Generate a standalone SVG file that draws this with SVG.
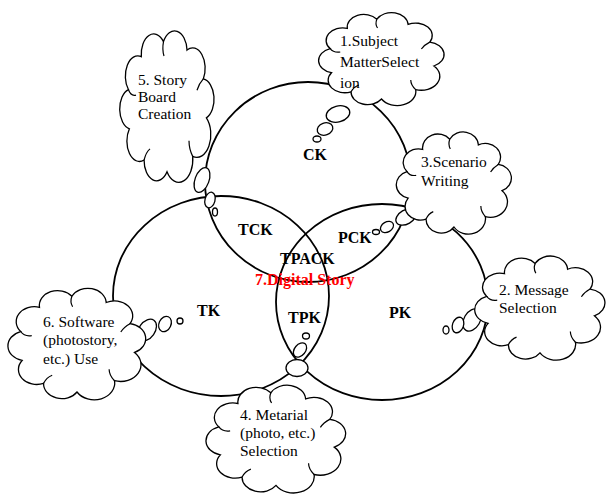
<svg xmlns="http://www.w3.org/2000/svg" xmlns:xlink="http://www.w3.org/1999/xlink" width="607" height="494" viewBox="0 0 607 494">
<style>
.ring{fill:none;stroke:#000;stroke-width:1.8}
.cloud{fill:#fff;stroke:#000;stroke-width:1.3}
.inner{fill:none;stroke:#000;stroke-width:1.2}
.bub{fill:#fff;stroke:#000;stroke-width:1.3}
.ct{font-family:"Liberation Serif","Times New Roman",serif;font-size:15.5px;fill:#000}
.lb{font-family:"Liberation Serif","Times New Roman",serif;font-size:16px;font-weight:bold;fill:#000}
.red{fill:#ff0000}
</style>
<defs>
<path id="cloudShape" vector-effect="non-scaling-stroke" d="M11.4,39.6 A12.5,12.5 0 0 1 24.3,19.4 A12.5,12.5 0 0 1 46.5,10.2 A12.5,12.5 0 0 1 70,15.4 A12.5,12.5 0 0 1 86.3,33.1 A12.5,12.5 0 0 1 89.4,57 A14,14 0 0 1 75.7,80.6 A14,14 0 0 1 50,90 A12.5,12.5 0 0 1 27.1,82.8 A12.5,12.5 0 0 1 12.4,63.7 A12.5,12.5 0 0 1 11.4,39.6 Z"/>
<path id="cloudInner" vector-effect="non-scaling-stroke" d="M11.4,39.6 Q14,44 19,43 M46.5,10.2 Q45,15 47,19 M86.3,33.1 Q82,36 80,40 M75.7,80.6 Q72,76 72,71 M27.1,82.8 Q29,78 33,76"/>
</defs>

<g id="circles">
<ellipse id="ck-circle" class="ring" cx="308" cy="182" rx="103" ry="100"/>
<ellipse id="tk-circle" class="ring" cx="221" cy="296" rx="108" ry="100"/>
<ellipse id="pk-circle" class="ring" cx="382" cy="302" rx="106" ry="98"/>
</g>

<g id="labels">
<text class="lb" x="303" y="160">CK</text>
<text class="lb" x="238" y="235">TCK</text>
<text class="lb" x="338" y="243">PCK</text>
<text class="lb" x="280" y="264">TPACK</text>
<text class="lb red" x="255" y="285">7.Digital Story</text>
<text class="lb" x="197" y="316">TK</text>
<text class="lb" x="288" y="323">TPK</text>
<text class="lb" x="389" y="318">PK</text>
</g>

<g id="connectors">
<g id="bubbles-1">
<ellipse class="bub" cx="338" cy="114" rx="12" ry="8" transform="rotate(-15 338 114)"/>
<ellipse class="bub" cx="325" cy="129" rx="8" ry="6" transform="rotate(-20 325 129)"/>
<ellipse class="bub" cx="317" cy="139" rx="4" ry="3"/>
</g>
<g id="bubbles-5">
<ellipse class="bub" cx="202" cy="180" rx="7" ry="13" transform="rotate(20 202 180)"/>
<ellipse class="bub" cx="210" cy="200" rx="5" ry="8" transform="rotate(15 210 200)"/>
<ellipse class="bub" cx="215" cy="212" rx="2.5" ry="4"/>
</g>
<g id="bubbles-3">
<ellipse class="bub" cx="406" cy="217" rx="11" ry="7" transform="rotate(-30 406 217)"/>
<ellipse class="bub" cx="387" cy="227" rx="7" ry="5" transform="rotate(-30 387 227)"/>
<ellipse class="bub" cx="376" cy="232" rx="3.5" ry="2.5"/>
</g>
<g id="bubbles-2">
<ellipse class="bub" cx="472" cy="320" rx="8" ry="12" transform="rotate(30 472 320)"/>
<ellipse class="bub" cx="458" cy="325" rx="5.5" ry="8" transform="rotate(20 458 325)"/>
<ellipse class="bub" cx="446" cy="330" rx="3" ry="4"/>
</g>
<g id="bubbles-6">
<ellipse class="bub" cx="147" cy="330" rx="8" ry="12" transform="rotate(35 147 330)"/>
<ellipse class="bub" cx="165" cy="324" rx="6" ry="8" transform="rotate(25 165 324)"/>
<ellipse class="bub" cx="180" cy="321" rx="3" ry="3"/>
</g>
<g id="bubbles-4">
<ellipse class="bub" cx="297" cy="368" rx="11" ry="8.5"/>
<ellipse class="bub" cx="300" cy="350" rx="8" ry="5.5" transform="rotate(-50 300 350)"/>
<ellipse class="bub" cx="306" cy="336" rx="3.5" ry="3"/>
</g>
</g>

<g id="cloud-1">
<use xlink:href="#cloudShape" class="cloud" transform="translate(315 9) scale(1.33 1.0)"/>
<use xlink:href="#cloudInner" class="inner" transform="translate(315 9) scale(1.33 1.0)"/>
<text class="ct" x="340" y="46">1.Subject</text>
<text class="ct" x="340" y="67">MatterSelect</text>
<text class="ct" x="340" y="88">ion</text>
</g>

<g id="cloud-5">
<use xlink:href="#cloudShape" class="cloud" transform="translate(117 25) scale(1.0 1.63)"/>
<use xlink:href="#cloudInner" class="inner" transform="translate(117 25) scale(1.0 1.63)"/>
<text class="ct" x="138" y="85">5. Story</text>
<text class="ct" x="138" y="102">Board</text>
<text class="ct" x="138" y="119">Creation</text>
</g>

<g id="cloud-3">
<use xlink:href="#cloudShape" class="cloud" transform="translate(393 128) scale(1.22 1.1)"/>
<use xlink:href="#cloudInner" class="inner" transform="translate(393 128) scale(1.22 1.1)"/>
<text class="ct" x="421" y="167">3.Scenario</text>
<text class="ct" x="421" y="186">Writing</text>
</g>

<g id="cloud-2">
<use xlink:href="#cloudShape" class="cloud" transform="translate(471 252) scale(1.38 1.12)"/>
<use xlink:href="#cloudInner" class="inner" transform="translate(471 252) scale(1.38 1.12)"/>
<text class="ct" x="499" y="295">2. Message</text>
<text class="ct" x="499" y="313">Selection</text>
</g>

<g id="cloud-6">
<use xlink:href="#cloudShape" class="cloud" transform="translate(4 284) scale(1.46 1.2)"/>
<use xlink:href="#cloudInner" class="inner" transform="translate(4 284) scale(1.46 1.2)"/>
<text class="ct" x="43" y="327">6. Software</text>
<text class="ct" x="43" y="345">(photostory,</text>
<text class="ct" x="43" y="364">etc.) Use</text>
</g>

<g id="cloud-4">
<use xlink:href="#cloudShape" class="cloud" transform="translate(202 381) scale(1.48 1.16)"/>
<use xlink:href="#cloudInner" class="inner" transform="translate(202 381) scale(1.48 1.16)"/>
<text class="ct" x="240" y="420">4. Metarial</text>
<text class="ct" x="240" y="438">(photo, etc.)</text>
<text class="ct" x="240" y="456">Selection</text>
</g>
</svg>
